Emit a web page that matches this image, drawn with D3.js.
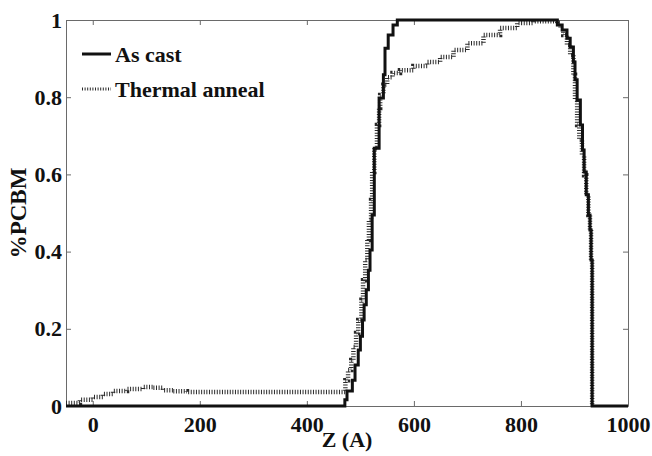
<!DOCTYPE html>
<html>
<head>
<meta charset="utf-8">
<script src="https://cdn.jsdelivr.net/npm/d3@7"></script>
<style>
  body { margin: 0; background: #fff; }
  text { font-family: "Liberation Serif", "Times New Roman", serif; font-weight: bold; }
</style>
</head>
<body>
<script>
const w = 652;
const h = 456;

// data
const castZ = [-50, 471, 475, 485, 490, 496, 500, 504, 507, 511, 515, 518, 522, 526, 535, 543, 546, 552, 561, 569, 578,
  868, 877, 886, 892, 898, 901, 905, 911, 915, 918, 922, 926, 929, 931, 933, 1000];
const castV = [0, 0.016, 0.039, 0.067, 0.106, 0.145, 0.181, 0.223, 0.262, 0.301, 0.352, 0.404, 0.495, 0.668, 0.798, 0.858, 0.927, 0.961, 0.987, 1, 1,
  0.987, 0.974, 0.953, 0.930, 0.891, 0.845, 0.793, 0.728, 0.663, 0.606, 0.547, 0.495, 0.456, 0.378, 0, 0];

const annealZ = [-50, -42, -24, 0, 19, 38, 64, 94, 113, 131, 150, 176, 466, 472, 477, 483, 487, 492, 496, 502, 505, 509, 513, 516, 520,
  522, 526, 531, 535, 537, 543, 550, 560, 574, 599, 625, 649, 674, 700, 730, 761, 793, 823, 855,
  868, 874, 879, 886, 892, 898, 901, 905, 909, 914, 918, 922, 926, 929, 931, 933, 933];
const annealV = [0.008, 0.008, 0.016, 0.023, 0.031, 0.039, 0.044, 0.049, 0.047, 0.041, 0.038, 0.036, 0.036, 0.067, 0.093, 0.119, 0.153, 0.189, 0.223, 0.275, 0.326, 0.378, 0.430, 0.482, 0.534,
  0.606, 0.668, 0.728, 0.772, 0.806, 0.832, 0.852, 0.863, 0.870, 0.881, 0.891, 0.904, 0.922, 0.940, 0.961, 0.979, 0.992, 0.997, 0.997,
  0.992, 0.979, 0.961, 0.935, 0.909, 0.858, 0.793, 0.728, 0.689, 0.650, 0.598, 0.547, 0.495, 0.456, 0.378, 0.223, 0];

const xTicks = [0, 200, 400, 600, 800, 1000];
const yTicks = [0, 0.2, 0.4, 0.6, 0.8, 1];
const yTickLabels = ["0", "0.2", "0.4", "0.6", "0.8", "1"];
const seriesNames = ["As cast", "Thermal anneal"];

const pLeft = 66, pRight = 628, pTop = 20, pBottom = 406;

const x = d3.scaleLinear().domain([-50, 1000]).range([pLeft, pRight]);
const y = d3.scaleLinear().domain([0, 1]).range([pBottom, pTop]);

const svg = d3.select("body").append("svg")
  .attr("width", w)
  .attr("height", h);

const frameColor = "#6a6a6a";

// axes, ticks pointing inward
const xAxis = d3.axisBottom(x).tickValues(xTicks).tickSize(-5).tickSizeOuter(0).tickPadding(10).tickFormat(d3.format("d"));
const xTop = d3.axisTop(x).tickValues(xTicks).tickSize(-5).tickSizeOuter(0).tickFormat("");
const yAxis = d3.axisLeft(y).tickValues(yTicks).tickSize(-5).tickSizeOuter(0).tickPadding(4)
  .tickFormat((d, i) => yTickLabels[i]);
const yRight = d3.axisRight(y).tickValues(yTicks).tickSize(-5).tickSizeOuter(0).tickFormat("");

function styleAxis(g) {
  g.select(".domain").attr("stroke", frameColor);
  g.selectAll(".tick line").attr("stroke", frameColor);
  g.selectAll(".tick text").attr("fill", "#111").style("font-size", "22px")
    .style("font-family", "Liberation Serif").style("font-weight", "bold");
}

svg.append("g").attr("transform", "translate(0," + pBottom + ")").call(xAxis).call(styleAxis);
svg.append("g").attr("transform", "translate(0," + pTop + ")").call(xTop).call(styleAxis);
svg.append("g").attr("transform", "translate(" + pLeft + ",0)").call(yAxis).call(styleAxis);
svg.append("g").attr("transform", "translate(" + pRight + ",0)").call(yRight).call(styleAxis);

const line = d3.line()
  .x(d => x(d[0]))
  .y(d => y(d[1]))
  .curve(d3.curveStepAfter);

const annealData = annealZ.map((z, i) => [z, annealV[i]]);
const castData = castZ.map((z, i) => [z, castV[i]]);

svg.append("path")
  .datum(annealData)
  .attr("fill", "none")
  .attr("stroke", "#2a2a2a")
  .attr("stroke-width", 4.5)
  .attr("stroke-dasharray", "1,1.6")
  .attr("d", line);

svg.append("path")
  .datum(castData)
  .attr("fill", "none")
  .attr("stroke", "#111")
  .attr("stroke-width", 3)
  .attr("d", line);

// legend
const legend = svg.append("g");
legend.append("line")
  .attr("x1", 82).attr("x2", 111).attr("y1", 54).attr("y2", 54)
  .attr("stroke", "#111").attr("stroke-width", 3);
legend.append("line")
  .attr("x1", 82).attr("x2", 111).attr("y1", 89).attr("y2", 89)
  .attr("stroke", "#2a2a2a").attr("stroke-width", 3).attr("stroke-dasharray", "1,1.6");
legend.selectAll("text.leg")
  .data(seriesNames)
  .enter().append("text")
  .attr("class", "leg")
  .attr("x", 115)
  .attr("y", (d, i) => 62 + i * 35)
  .attr("fill", "#111")
  .style("font-size", "22px")
  .text(d => d);

// axis titles
svg.append("text")
  .attr("x", 347)
  .attr("y", 447)
  .attr("text-anchor", "middle")
  .attr("fill", "#111")
  .style("font-size", "22px")
  .text("Z (A)");

svg.append("text")
  .attr("transform", "translate(26," + ((pTop + pBottom) / 2) + ") rotate(-90)")
  .attr("text-anchor", "middle")
  .attr("fill", "#111")
  .style("font-size", "23px")
  .text("%PCBM");
</script>
</body>
</html>
